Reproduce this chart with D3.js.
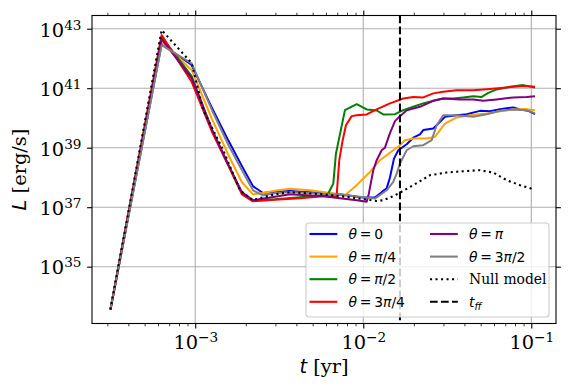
<!DOCTYPE html>
<html>
<head>
<meta charset="utf-8">
<script src="https://cdn.jsdelivr.net/npm/d3@7"></script>
<style>
  body { margin: 0; background: #fff; }
  svg { display: block; }
</style>
</head>
<body>
<div id="chart"></div>
<script>
// luminosity curves as [t (yr), L (erg/s)]
var lumBlue = [
  [3.13e-4, 3.65e33], [6.31e-4, 3.05e42], [9.52e-4, 6.0e41], [1.262e-3, 2.1e40],
  [1.578e-3, 1.7e39], [1.897e-3, 2.4e38], [2.206e-3, 5.1e37], [2.529e-3, 3.0e37],
  [2.98e-3, 3.3e37], [3.66e-3, 3.5e37], [7.27e-3, 2.7e37], [1.0e-2, 2.1e37],
  [1.174e-2, 2.1e37], [1.287e-2, 3.2e37], [1.378e-2, 4.3e37], [1.442e-2, 1.0e38],
  [1.523e-2, 4.3e38], [1.616e-2, 8.2e38], [1.813e-2, 1.31e39], [1.984e-2, 2.17e39],
  [2.175e-2, 2.8e39], [2.275e-2, 3.9e39], [2.61e-2, 4.4e39], [3.064e-2, 1.09e40],
  [3.597e-2, 1.24e40], [4.126e-2, 1.34e40], [4.95e-2, 1.73e40], [5.68e-2, 1.69e40],
  [6.51e-2, 1.98e40], [7.82e-2, 2.26e40], [8.57e-2, 1.93e40], [9.6e-2, 1.73e40],
  [1.052e-1, 1.34e40]
];
var lumOrange = [
  [3.13e-4, 3.65e33], [6.31e-4, 3.6e42], [9.52e-4, 4.1e41], [1.262e-3, 8.8e39],
  [1.578e-3, 5.6e38], [1.897e-3, 6.9e37], [2.206e-3, 2.7e37], [2.529e-3, 3.0e37],
  [2.98e-3, 3.56e37], [3.66e-3, 4.2e37], [4.82e-3, 3.7e37], [6.34e-3, 3.0e37],
  [7.78e-3, 2.5e37], [9.14e-3, 5.5e37], [1.096e-2, 1.53e38], [1.257e-2, 3.8e38],
  [1.378e-2, 5.6e38], [1.509e-2, 8.2e38], [1.654e-2, 1.21e39], [1.77e-2, 1.79e39],
  [1.984e-2, 2.04e39], [2.385e-2, 2.04e39], [2.672e-2, 2.31e39], [3.064e-2, 6.5e39],
  [3.597e-2, 1.04e40], [4.316e-2, 1.24e40], [5.43e-2, 1.42e40], [6.51e-2, 1.69e40],
  [7.82e-2, 1.93e40], [9.39e-2, 1.98e40], [1.052e-1, 1.83e40]
];
var lumGreen = [
  [3.13e-4, 3.65e33], [6.31e-4, 5.3e42], [9.52e-4, 2.55e41], [1.262e-3, 3.9e39],
  [1.578e-3, 2.6e38], [1.897e-3, 2.9e37], [2.206e-3, 1.71e37], [2.98e-3, 1.85e37],
  [4.2e-3, 2.15e37], [5.78e-3, 2.5e37], [6.19e-3, 2.87e37], [6.63e-3, 6.2e37],
  [6.88e-3, 6.4e38], [7.78e-3, 1.83e40], [9.14e-3, 2.9e40], [1.048e-2, 1.93e40],
  [1.202e-2, 1.78e40], [1.315e-2, 1.31e40], [1.544e-2, 1.34e40], [1.73e-2, 1.83e40],
  [1.984e-2, 2.37e40], [2.275e-2, 3.08e40], [2.61e-2, 3.77e40], [2.99e-2, 4.5e40],
  [3.434e-2, 4.5e40], [3.936e-2, 4.9e40], [4.517e-2, 5.4e40], [5.068e-2, 5.1e40],
  [5.55e-2, 7.0e40], [6.22e-2, 9.1e40], [7.47e-2, 1.11e41], [8.96e-2, 1.27e41],
  [1.052e-1, 1.06e41]
];
var lumRed = [
  [3.13e-4, 3.65e33], [6.31e-4, 6.1e42], [9.52e-4, 1.64e41], [1.262e-3, 3.3e39],
  [1.578e-3, 2.4e38], [1.897e-3, 2.7e37], [2.206e-3, 1.58e37], [2.98e-3, 1.78e37],
  [4.2e-3, 2.0e37], [5.78e-3, 2.33e37], [6.94e-3, 2.4e37], [7.2e-3, 3.8e38],
  [7.54e-3, 1.79e39], [7.89e-3, 5.7e39], [8.53e-3, 1.15e40], [9.14e-3, 1.24e40],
  [1.048e-2, 1.31e40], [1.202e-2, 1.93e40], [1.442e-2, 3.08e40], [1.73e-2, 4.5e40],
  [1.984e-2, 5.1e40], [2.275e-2, 4.9e40], [2.61e-2, 6.7e40], [2.99e-2, 7.6e40],
  [3.597e-2, 8.6e40], [4.517e-2, 8.6e40], [5.43e-2, 9.3e40], [7.14e-2, 1.06e41],
  [8.96e-2, 1.18e41], [1.052e-1, 1.11e41]
];
var lumPurple = [
  [3.13e-4, 3.65e33], [6.31e-4, 4.5e42], [9.52e-4, 2.19e41], [1.262e-3, 3.9e39],
  [1.578e-3, 2.6e38], [1.897e-3, 3.2e37], [2.206e-3, 1.71e37], [2.98e-3, 2.25e37],
  [3.66e-3, 2.7e37], [5.78e-3, 2.33e37], [9.14e-3, 1.71e37], [1.048e-2, 1.52e37],
  [1.074e-2, 2.5e37], [1.147e-2, 1.75e38], [1.202e-2, 3.8e38], [1.287e-2, 8.2e38],
  [1.346e-2, 1.0e39], [1.442e-2, 3.1e39], [1.544e-2, 7.8e39], [1.654e-2, 1.15e40],
  [1.813e-2, 1.8e40], [2.175e-2, 2.37e40], [2.61e-2, 3.77e40], [2.99e-2, 4.5e40],
  [3.763e-2, 4.2e40], [4.517e-2, 4.2e40], [5.18e-2, 3.77e40], [6.22e-2, 4.2e40],
  [7.82e-2, 4.9e40], [9.39e-2, 5.1e40], [1.052e-1, 5.4e40]
];
var lumGray = [
  [3.13e-4, 3.65e33], [6.31e-4, 2.8e42], [9.52e-4, 6.8e41], [1.262e-3, 1.75e40],
  [1.578e-3, 1.21e39], [1.897e-3, 1.75e38], [2.206e-3, 3.7e37], [2.529e-3, 2.5e37],
  [2.98e-3, 2.94e37], [3.66e-3, 3.25e37], [7.27e-3, 2.6e37], [1.174e-2, 1.95e37],
  [1.378e-2, 3.7e37], [1.509e-2, 7.1e37], [1.581e-2, 1.35e38], [1.654e-2, 2.94e38],
  [1.813e-2, 8.2e38], [1.984e-2, 1.12e39], [2.275e-2, 1.21e39], [2.553e-2, 1.79e39],
  [2.735e-2, 5.7e39], [2.99e-2, 1.24e40], [3.597e-2, 1.24e40], [4.517e-2, 1.09e40],
  [5.43e-2, 1.34e40], [6.51e-2, 1.73e40], [7.82e-2, 1.93e40], [9.39e-2, 1.83e40],
  [1.052e-1, 1.42e40]
];
var lumNull = [
  [3.13e-4, 3.65e33], [6.31e-4, 9.0e42], [9.52e-4, 7.0e41], [1.116e-3, 1.83e40],
  [1.468e-3, 8.2e38], [1.845e-3, 3.7e37], [2.206e-3, 1.71e37], [2.529e-3, 2.15e37],
  [2.98e-3, 2.7e37], [3.66e-3, 3.2e37], [5.78e-3, 2.7e37], [7.78e-3, 2.25e37],
  [1.048e-2, 1.8e37], [1.202e-2, 1.62e37], [1.315e-2, 1.71e37], [1.442e-2, 2.1e37],
  [1.616e-2, 2.87e37], [1.984e-2, 5.5e37], [2.495e-2, 1.19e38], [3.136e-2, 1.46e38],
  [3.936e-2, 1.62e38], [4.95e-2, 1.75e38], [5.94e-2, 1.46e38], [7.14e-2, 8.1e37],
  [8.57e-2, 5.5e37], [1.028e-1, 4.0e37]
];
var tFreefall = 1.654e-2;

var xMajor = [1e-3, 1e-2, 1e-1], xExp = ["\u22123", "\u22122", "\u22121"];
var yMajor = [1e35, 1e37, 1e39, 1e41, 1e43], yExp = ["35", "37", "39", "41", "43"];

var series = [
  { val: "0", color: "blue", data: lumBlue },
  { val: "\u03c0/4", color: "orange", data: lumOrange },
  { val: "\u03c0/2", color: "green", data: lumGreen },
  { val: "3\u03c0/4", color: "red", data: lumRed },
  { val: "\u03c0", color: "purple", data: lumPurple },
  { val: "3\u03c0/2", color: "gray", data: lumGray }
];

var margin = { top: 15.5, right: 14, bottom: 67.5, left: 92 },
  width = 570 - margin.left - margin.right,
  height = 391 - margin.top - margin.bottom;

var serif = "'DejaVu Serif', serif",
  sans = "'DejaVu Sans', sans-serif";

var x = d3.scaleLog().domain([2.43e-4, 0.1403]).range([0, width]),
  y = d3.scaleLog().domain([1.23e33, 2.78e43]).range([height, 0]);

var svg = d3
  .select("#chart")
  .append("svg")
  .attr("width", 570)
  .attr("height", 391);

svg.append("defs")
  .append("clipPath")
  .attr("id", "clip")
  .append("rect")
  .attr("width", width)
  .attr("height", height);

var focus = svg
  .append("g")
  .attr("transform", "translate(" + margin.left + "," + margin.top + ")");

// grid
var grid = focus.append("g").attr("stroke", "#b0b0b0").attr("stroke-width", 1.1);
xMajor.forEach(function (v) {
  grid.append("line").attr("x1", x(v)).attr("x2", x(v)).attr("y1", 0).attr("y2", height);
});
yMajor.forEach(function (v) {
  grid.append("line").attr("x1", 0).attr("x2", width).attr("y1", y(v)).attr("y2", y(v));
});

var line = d3
  .line()
  .x(function (d) { return x(d[0]); })
  .y(function (d) { return y(d[1]); });

var lines = focus.append("g").attr("clip-path", "url(#clip)");
series.forEach(function (s) {
  lines.append("path")
    .datum(s.data)
    .attr("d", line)
    .attr("fill", "none")
    .attr("stroke", s.color)
    .attr("stroke-width", 2)
    .attr("stroke-linejoin", "round");
});
lines.append("path")
  .datum(lumNull)
  .attr("d", line)
  .attr("fill", "none")
  .attr("stroke", "black")
  .attr("stroke-width", 2.1)
  .attr("stroke-dasharray", "2.1,3.4");

lines.append("line")
  .attr("x1", x(tFreefall)).attr("x2", x(tFreefall))
  .attr("y1", 0).attr("y2", height)
  .attr("stroke", "black")
  .attr("stroke-width", 2.1)
  .attr("stroke-dasharray", "7.7,3.3");

// axes
var xMinor = x.ticks().filter(function (v) {
  var e = Math.log10(v);
  return Math.abs(e - Math.round(e)) > 1e-6;
});

function styleAxis(g) {
  g.select(".domain").remove();
  g.selectAll(".tick line").attr("stroke", "black").attr("stroke-width", 1.1);
  g.selectAll(".tick text").remove();
}
function styleMinor(g) {
  g.select(".domain").remove();
  g.selectAll(".tick line").attr("stroke", "black").attr("stroke-width", 0.8);
  g.selectAll(".tick text").remove();
}

var xAxisG = focus.append("g")
  .attr("transform", "translate(0," + height + ")")
  .call(d3.axisBottom(x).tickValues(xMajor).tickSize(4.9).tickFormat(""))
  .call(styleAxis);
focus.append("g")
  .attr("transform", "translate(0," + height + ")")
  .call(d3.axisBottom(x).tickValues(xMinor).tickSize(2.8).tickFormat(""))
  .call(styleMinor);
focus.append("g")
  .call(d3.axisTop(x).tickValues(xMajor).tickSize(4.9).tickFormat(""))
  .call(styleAxis);
focus.append("g")
  .call(d3.axisTop(x).tickValues(xMinor).tickSize(2.8).tickFormat(""))
  .call(styleMinor);
var yAxisG = focus.append("g")
  .call(d3.axisLeft(y).tickValues(yMajor).tickSize(4.9).tickFormat(""))
  .call(styleAxis);
focus.append("g")
  .attr("transform", "translate(" + width + ",0)")
  .call(d3.axisRight(y).tickValues(yMajor).tickSize(4.9).tickFormat(""))
  .call(styleAxis);

xAxisG.selectAll(".tick").each(function (d, i) {
  var t = d3.select(this).append("text")
    .attr("y", 25)
    .attr("text-anchor", "middle")
    .attr("font-family", serif)
    .attr("font-size", 19.4)
    .attr("fill", "black");
  t.append("tspan").text("10");
  t.append("tspan").attr("dy", -7).attr("font-size", 13.6).text(xExp[i]);
});
yAxisG.selectAll(".tick").each(function (d, i) {
  var t = d3.select(this).append("text")
    .attr("x", -10.5)
    .attr("y", 7.3)
    .attr("text-anchor", "end")
    .attr("font-family", serif)
    .attr("font-size", 19.4)
    .attr("fill", "black");
  t.append("tspan").text("10");
  t.append("tspan").attr("dy", -7).attr("font-size", 13.6).text(yExp[i]);
});

focus.append("rect")
  .attr("width", width)
  .attr("height", height)
  .attr("fill", "none")
  .attr("stroke", "black")
  .attr("stroke-width", 1.1);

// axis labels
var xl = svg.append("text")
  .attr("x", margin.left + width / 2)
  .attr("y", 373)
  .attr("text-anchor", "middle")
  .attr("font-family", serif)
  .attr("font-size", 19.4);
xl.append("tspan").attr("font-family", sans).attr("font-style", "italic").text("t");
xl.append("tspan").text(" [yr]");

var yl = svg.append("text")
  .attr("transform", "translate(26," + (margin.top + height / 2) + ") rotate(-90)")
  .attr("text-anchor", "middle")
  .attr("font-family", serif)
  .attr("font-size", 19.4);
yl.append("tspan").attr("font-family", sans).attr("font-style", "italic").text("L");
yl.append("tspan").text(" [erg/s]");

// legend
var legend = svg.append("g").attr("transform", "translate(306,223)");
legend.append("rect")
  .attr("width", 243)
  .attr("height", 94)
  .attr("rx", 3)
  .attr("fill", "white")
  .attr("fill-opacity", 0.8)
  .attr("stroke", "#cccccc")
  .attr("stroke-width", 1.1);

var entries = series.map(function (s) {
  return { kind: "theta", val: s.val, color: s.color, dash: null };
});
entries.push({ kind: "null", color: "black", dash: "2.1,3.4" });
entries.push({ kind: "tff", color: "black", dash: "7.7,3.3" });

entries.forEach(function (e, i) {
  var col = i < 4 ? 0 : 1,
    row = i % 4;
  var g = legend.append("g")
    .attr("transform", "translate(" + (col === 0 ? 3.5 : 124) + "," + (11 + row * 22.6) + ")");
  g.append("line")
    .attr("x1", 0).attr("x2", 27.8)
    .attr("stroke", e.color)
    .attr("stroke-width", 2.1)
    .attr("stroke-dasharray", e.dash);
  var t = g.append("text")
    .attr("x", 39)
    .attr("y", 5)
    .attr("font-family", sans)
    .attr("font-size", 13.9)
    .attr("fill", "black");
  if (e.kind === "theta") {
    t.append("tspan").attr("font-style", "italic").text("\u03b8");
    t.append("tspan").text("\u2009=\u2009");
    e.val.split(/(\u03c0)/).forEach(function (p) {
      if (p === "") return;
      t.append("tspan").attr("font-style", p === "\u03c0" ? "italic" : "normal").text(p);
    });
  } else if (e.kind === "null") {
    t.attr("font-family", serif).text("Null model");
  } else {
    t.append("tspan").attr("font-style", "italic").text("t");
    t.append("tspan").attr("font-style", "italic").attr("font-size", 9.7).attr("dy", 3).text("ff");
  }
});
</script>
</body>
</html>
